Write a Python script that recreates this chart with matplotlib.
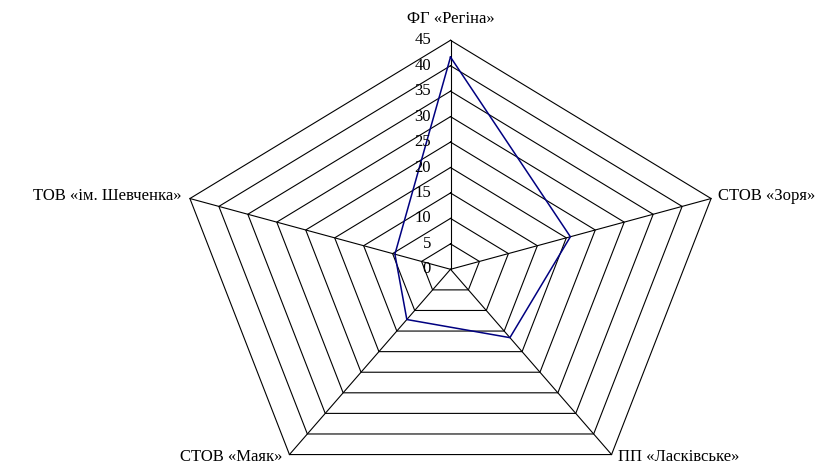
import numpy as np
import matplotlib
matplotlib.use('Agg')
import matplotlib.pyplot as plt

plt.rcParams['font.family'] = ['Liberation Serif', 'DejaVu Serif']

categories = ['ФГ «Регіна»', 'СТОВ «Зоря»', 'ПП «Ласківське»', 'СТОВ «Маяк»', 'ТОВ «ім. Шевченка»']
values = [41.7, 20.7, 16.6, 12.2, 9.6]
ticks = [0, 5, 10, 15, 20, 25, 30, 35, 40, 45]

n = len(categories)
theta = np.arange(n) * 2 * np.pi / n   # clockwise from the top
sx, sy = np.sin(theta), np.cos(theta)

fig = plt.figure(figsize=(8.27, 4.65), dpi=100)
ax = fig.add_axes([0, 0, 1, 1])
# chart is stretched horizontally (274 px vs 229 px for 45)
kx, ky = 274 / 45, 229 / 45
cx, cy = 450.5, 269.3
ax.set_xlim(-cx / kx, (827 - cx) / kx)
ax.set_ylim(-(465 - cy) / ky, cy / ky)
ax.axis('off')

# rings
for t in ticks[1:]:
    ax.plot(np.append(sx, sx[0]) * t, np.append(sy, sy[0]) * t, color='black', lw=0.8)
# spokes
rmax = ticks[-1]
for i in range(n):
    ax.plot([0, sx[i] * rmax], [0, sy[i] * rmax], color='black', lw=0.8)

# series
v = np.array(values)
ax.plot(np.append(sx * v, sx[0] * v[0]), np.append(sy * v, sy[0] * v[0]), color='#000080', lw=1.1)

# value labels along the top spoke
for t in ticks:
    ax.annotate(str(t), (0, t), xytext=(-14, 0), textcoords='offset points',
                ha='right', va='center', fontsize=12)

# category labels
offs = [(0, 15, 'center'), (5, 2, 'left'), (4.5, -1.5, 'left'), (-5, -1.5, 'right'), (-6, 1.7, 'right')]
for i, name in enumerate(categories):
    dx, dy, ha = offs[i]
    ax.annotate(name, (sx[i] * rmax, sy[i] * rmax), xytext=(dx, dy), textcoords='offset points',
                ha=ha, va='center', fontsize=12, annotation_clip=False)

fig.savefig('out.png', dpi=100)
